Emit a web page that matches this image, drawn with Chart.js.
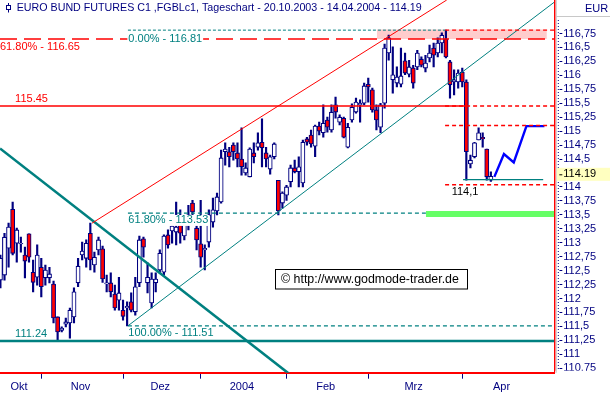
<!DOCTYPE html>
<html>
<head>
<meta charset="utf-8">
<title>EURO BUND FUTURES C1</title>
<script src="https://cdn.jsdelivr.net/npm/chart.js@4/dist/chart.umd.min.js"></script>
<style>
html,body{margin:0;padding:0;background:#ffffff;overflow:hidden}
canvas{display:block}
</style>
</head>
<body>
<canvas id="chart" width="610" height="396"></canvas>
<script>
// ---------------- data ----------------
const titleText = 'EURO BUND FUTURES C1 ,FGBLc1, Tageschart - 20.10.2003 - 14.04.2004 - 114.19';
const monthNames  = ['Okt', 'Nov', 'Dez', '2004', 'Feb', 'Mrz', 'Apr'];
const monthStarts = [0, 10, 30, 49, 70, 90, 113];   // trading-day index of first session of each month

const open = [
  112.33,112.42,112.90,113.60,112.99,112.98,112.78,113.16,112.47,112.38,
  112.56,112.37,112.37,112.26,111.67,111.43,111.54,111.56,111.67,112.28,112.78,112.72,113.17,112.60,112.87,112.89,112.26,112.28,112.08,111.97,
  111.79,111.83,111.94,111.76,112.28,113.07,112.28,111.92,112.28,112.51,112.47,113.14,113.21,113.19,113.32,113.12,113.50,113.71,113.26,
  112.98,112.87,113.01,113.37,113.57,113.73,114.63,114.63,114.75,114.61,114.50,114.25,114.18,114.61,114.71,114.80,114.61,114.32,114.54,114.12,113.71,
  113.85,114.09,114.34,114.27,114.07,114.86,114.93,114.73,115.09,114.97,115.20,115.02,115.47,115.16,115.23,114.71,115.20,115.34,115.47,115.50,
  115.84,115.74,115.38,115.07,115.50,116.40,115.92,115.86,115.84,116.26,116.02,116.13,116.15,116.29,116.13,116.31,116.49,116.40,116.58,116.65,116.24,115.88,115.88,
  116.06,115.88,114.41,114.54,114.84,114.89,114.68,114.12
];
const high = [
  112.78,113.17,113.35,113.73,113.26,113.10,112.92,113.16,112.69,112.96,
  112.72,112.60,112.56,112.31,111.67,111.49,111.65,111.83,112.19,112.72,113.01,113.05,113.35,112.83,113.10,112.94,112.42,112.46,112.24,112.38,
  111.97,111.94,112.10,112.38,113.12,113.10,112.64,112.46,112.46,112.87,113.14,113.23,113.35,113.73,113.59,113.44,113.67,113.76,113.41,
  113.76,112.96,113.59,113.80,113.89,114.66,114.79,114.71,114.79,114.79,115.06,114.43,114.70,114.79,114.97,115.22,114.71,114.57,114.79,114.12,113.91,
  114.03,114.39,114.48,114.54,114.84,114.89,115.02,115.11,115.16,115.47,115.25,115.47,115.61,115.29,115.25,115.14,115.49,115.59,115.56,115.86,
  115.95,115.77,115.47,115.50,116.56,116.72,116.51,116.15,116.49,116.40,116.27,116.18,116.45,116.33,116.36,116.54,116.58,116.67,116.76,116.81,116.27,116.10,116.10,
  116.13,115.92,114.57,114.80,115.06,114.97,114.68,114.27
];
const low = [
  112.19,112.33,112.56,112.78,112.65,112.83,112.37,112.65,112.12,112.24,
  112.03,112.24,112.28,111.56,111.24,111.40,111.49,111.29,111.56,112.21,112.69,112.56,112.51,112.47,112.78,112.29,112.12,112.03,111.79,111.79,
  111.61,111.51,111.76,111.70,112.21,112.74,112.10,111.83,112.12,112.46,112.42,112.90,112.99,112.96,112.99,113.05,113.23,113.50,112.87,
  112.56,112.51,112.92,113.28,113.50,113.71,114.39,114.36,114.48,114.36,114.21,114.21,114.18,114.43,114.66,114.36,114.36,114.23,114.50,113.50,113.62,
  113.76,114.00,114.25,114.00,114.00,114.75,114.71,114.54,114.93,114.89,114.98,114.98,115.23,115.11,114.88,114.70,115.16,115.32,115.16,115.47,
  115.52,115.34,115.02,114.97,115.41,116.27,115.68,115.79,115.79,116.01,115.97,115.77,116.10,116.15,116.06,116.24,116.15,116.33,116.40,116.31,115.59,115.65,115.77,
  115.79,114.12,114.34,114.52,114.84,114.71,114.12,114.10
];
const close = [
  112.72,113.10,113.28,112.81,113.23,112.99,112.67,112.74,112.29,112.78,
  112.21,112.51,112.44,111.65,111.40,111.47,111.58,111.79,112.12,112.58,112.85,112.99,112.69,112.74,113.05,112.35,112.28,112.12,111.83,112.10,
  111.68,111.86,111.79,112.21,113.05,112.92,112.38,112.35,112.35,112.81,113.12,112.96,113.30,113.28,113.17,113.37,113.37,113.55,113.05,
  112.74,112.90,113.50,113.59,113.82,114.52,114.68,114.54,114.63,114.50,114.36,114.34,114.68,114.54,114.79,114.70,114.50,114.54,114.77,113.57,113.89,
  114.00,114.34,114.27,114.36,114.80,114.80,114.77,115.09,115.00,115.14,115.07,115.34,115.34,115.25,114.89,115.07,115.43,115.52,115.50,115.81,
  115.79,115.38,115.20,115.47,116.49,116.67,116.01,115.97,115.99,116.04,116.15,115.86,116.40,116.18,116.22,116.40,116.36,116.58,116.72,116.33,115.83,115.92,116.04,
  115.88,114.63,114.48,114.79,114.97,114.86,114.18,114.19
];
const yTickValues = [116.75,116.5,116.25,116,115.75,115.5,115.25,115,114.75,114.5,114.25,114,113.75,
                     113.5,113.25,113,112.75,112.5,112.25,112,111.75,111.5,111.25,111,110.75];
const lastClose = 114.19;

// analysis levels (price)
const fibTop = 116.81, fibBottom = 111.51, fibUpper618 = 116.65, fibLower618 = 113.53;
const resistance = 115.45, resistance2 = 115.10, supportLow = 111.24, targetLevel = 114.04, shortSupport = 114.13;
const resistanceZone = [116.65, 116.82];
const supportZone = [113.46, 113.57];
// trend lines: [trading-day index, price]
const redChannel  = [[22.4, 113.35], [109.2, 117.35]];
const tealChannel = [[31.2, 111.51], [135.5, 117.31]];
const downTrend   = [[-0.1, 114.69], [71, 110.63]];
const projection  = [[120.85, 114.18], [123.2, 114.59], [125.6, 114.44], [128.7, 115.09], [133.1, 115.09]];

// ---------------- chart ----------------
const NAVY = '#000080', TEAL = '#008080', RED = '#ff0000';
const FONT = '"Liberation Sans", Arial, Helvetica, sans-serif';
Chart.defaults.font.family = FONT;

const xMin = -0.1, xMax = 135.52;
const edges = [xMin, ...monthStarts.slice(1), 133];
const labelAt = monthNames.map((n, k) => (edges[k] + edges[k + 1]) / 2 - 0.4);
const boundaryTicks = monthStarts.slice(1);
const xTickValues = [...boundaryTicks, ...labelAt].sort((a, b) => a - b);

const idx = open.map((_, i) => i);
const wickData = idx.map(i => ({ x: i, y: [low[i], high[i]] }));
const bodyData = idx.map(i => ({ x: i, y: [Math.min(open[i], close[i]), Math.max(open[i], close[i])] }));
const bodyColors = idx.map(i => close[i] < open[i] ? RED : '#ffffff');

function seg(points, color, width, dash, extra) {
  return Object.assign({
    type: 'line',
    data: points.map(p => ({ x: p[0], y: p[1] })),
    borderColor: color, borderWidth: width, borderDash: dash || [],
    pointRadius: 0, pointHoverRadius: 0, fill: false, tension: 0, order: 0, clip: 0
  }, extra || {});
}
function hline(value, from, to, color, width, dash) {
  return seg([[from, value], [to, value]], color, width, dash);
}
function zone(range, from, to, color) {
  return [
    seg([[from, range[1]], [to, range[1]]], 'rgba(0,0,0,0)', 0, [], { order: 3 }),
    seg([[from, range[0]], [to, range[0]]], 'rgba(0,0,0,0)', 0, [], { order: 3, fill: '-1', backgroundColor: color })
  ];
}

const datasets = [
  ...zone(resistanceZone, 92.1, 133.7, '#ffcccc'),
  ...zone(supportZone, 104.1, 135.6, '#66ff66'),
  { type: 'bar', data: wickData, backgroundColor: NAVY, borderWidth: 0, barThickness: 1.5, grouped: false, order: 2, clip: 0 },
  { type: 'bar', data: bodyData, backgroundColor: bodyColors, borderColor: NAVY, borderWidth: 1.1,
    borderSkipped: false, barThickness: 4.2, grouped: false, order: 1, clip: 0 },
  hline(fibUpper618, xMin, 135.6, RED, 1.5, [17, 7]),
  hline(fibTop, 31.2, 108.8, TEAL, 1, [3, 2]),
  hline(fibTop, 108.8, 135.6, RED, 1.4, [4, 3]),
  hline(resistance, xMin, 113.7, RED, 1.4),
  hline(resistance, 108.8, 135.6, RED, 1.4, [4, 3]),
  hline(resistance2, 108.8, 135.6, RED, 1.4, [4, 3]),
  hline(targetLevel, 108.8, 135.6, RED, 1.4, [4, 3]),
  hline(shortSupport, 113.2, 132.8, TEAL, 1.2),
  hline(fibLower618, 31.2, 104.1, TEAL, 1.2, [4, 3]),
  hline(fibBottom, 31.2, 135.6, TEAL, 1.2, [4, 3]),
  hline(supportLow, xMin, 135.6, TEAL, 2.5),
  seg(redChannel, RED, 1),
  seg(tealChannel, TEAL, 1),
  seg(downTrend, TEAL, 2.6),
  seg(projection, '#0000ff', 2.4)
];

const levelLabels = [
  { text: '61.80% - 116.65',  at: xMin, value: fibUpper618, dy: 8.2,  color: RED },
  { text: '0.00% - 116.81',   at: 31.3, value: fibTop,      dy: 9.0,  color: TEAL, bg: true },
  { text: '115.45',           at: 3.6,  value: resistance,  dy: -6.7, color: RED },
  { text: '61.80% - 113.53',  at: 31.3, value: fibLower618, dy: 7.3,  color: TEAL, bg: true },
  { text: '100.00% - 111.51', at: 31.3, value: fibBottom,   dy: 7.6,  color: TEAL, bg: true },
  { text: '111.24',           at: 3.6,  value: supportLow,  dy: -7.4, color: TEAL },
  { text: '114,1',            at: 110.4, value: targetLevel, dy: 7.2, color: '#000000' }
];

function txt(ctx, s, x, y, color, size, bg) {
  ctx.font = size + 'px ' + FONT;
  ctx.textBaseline = 'middle';
  ctx.textAlign = 'left';
  if (bg) {
    const w = ctx.measureText(s).width;
    ctx.fillStyle = '#ffffff';
    ctx.fillRect(x - 1, y - size / 2, w + 2, size);
  }
  ctx.fillStyle = color;
  ctx.fillText(s, x, y);
}

const overlay = {
  id: 'overlay',
  afterDraw(chart) {
    const { ctx, chartArea: ca, scales } = chart;
    const xs = scales.x, ys = scales.y;
    const W = chart.width, H = chart.height;
    ctx.save();
    // clip price labels below the plot
    ctx.fillStyle = '#ffffff';
    ctx.fillRect(ca.right + 1, ca.bottom - 2, W, H);
    // price panel frame
    ctx.strokeStyle = '#c8c8c8'; ctx.lineWidth = 1;
    ctx.beginPath();
    ctx.moveTo(ca.right + 2, 0); ctx.lineTo(ca.right + 2, ca.bottom);
    ctx.moveTo(ca.right + 2, 16.5); ctx.lineTo(W, 16.5);
    ctx.stroke();
    ctx.strokeStyle = NAVY; ctx.setLineDash([1, 2]);
    ctx.beginPath(); ctx.moveTo(ca.right + 4, 20); ctx.lineTo(ca.right + 4, ca.bottom - 2); ctx.stroke();
    ctx.setLineDash([]);
    txt(ctx, 'EUR', 585, 8.5, NAVY, 11);
    // current price marker
    const yc = ys.getPixelForValue(lastClose) - 2;
    ctx.fillStyle = '#ffffc0';
    ctx.fillRect(ca.right + 2.5, yc - 6.5, W - ca.right - 2.5, 13);
    ctx.strokeStyle = '#000000';
    ctx.beginPath(); ctx.moveTo(ca.right + 5, yc + 0.5); ctx.lineTo(ca.right + 8, yc + 0.5); ctx.stroke();
    txt(ctx, lastClose.toFixed(2), ca.right + 9, yc, '#000000', 11);
    // title with icon
    ctx.strokeStyle = NAVY; ctx.lineWidth = 1;
    ctx.beginPath(); ctx.moveTo(8.5, 3); ctx.lineTo(8.5, 12.5); ctx.stroke();
    ctx.fillStyle = '#ffffff'; ctx.fillRect(6.5, 5.5, 4, 4);
    ctx.strokeRect(6.5, 5.5, 4, 4);
    txt(ctx, titleText, 16.7, 7.8, NAVY, 10.7);
    // level labels
    levelLabels.forEach(l => {
      txt(ctx, l.text, Math.max(xs.getPixelForValue(l.at), 0), ys.getPixelForValue(l.value) + l.dy, l.color, 11, l.bg);
    });
    // copyright box
    ctx.fillStyle = '#ffffff'; ctx.fillRect(275.5, 269.5, 192, 19.5);
    ctx.strokeStyle = '#000000'; ctx.lineWidth = 1; ctx.strokeRect(275.5, 269.5, 192, 19.5);
    txt(ctx, '\u00A9 http://www.godmode-trader.de', 281, 279.5, '#000000', 12.4);
    ctx.restore();
  }
};

new Chart(document.getElementById('chart'), {
  type: 'bar',
  data: { datasets },
  options: {
    responsive: false,
    animation: false,
    devicePixelRatio: 1,
    events: [],
    layout: { padding: 0 },
    plugins: { legend: { display: false }, tooltip: { enabled: false }, title: { display: false } },
    scales: {
      x: {
        type: 'linear', position: 'bottom', min: xMin, max: xMax, offset: false,
        grid: {
          offset: false, drawOnChartArea: false, drawTicks: true, tickLength: 6, tickWidth: 1,
          tickColor: c => (c.tick && boundaryTicks.includes(c.tick.value)) ? NAVY : 'rgba(0,0,0,0)'
        },
        border: { display: true, color: RED, width: 2 },
        ticks: {
          autoSkip: false, maxRotation: 0, minRotation: 0, padding: 2, color: NAVY,
          font: { size: 11, family: FONT },
          callback: v => { const k = labelAt.findIndex(p => Math.abs(p - v) < 1e-6); return k >= 0 ? monthNames[k] : ''; }
        },
        afterBuildTicks: s => { s.ticks = xTickValues.map(v => ({ value: v })); },
        afterFit: s => { s.height = 23.3; s.paddingLeft = 0; s.paddingRight = 0; }
      },
      y: {
        type: 'linear', position: 'right', min: 110.67, max: 117.35, beginAtZero: false, bounds: 'data',
        grid: {
          drawOnChartArea: false, drawTicks: true, tickLength: 8, tickWidth: 1, tickColor: NAVY,
          tickBorderDash: [4, 4], tickBorderDashOffset: 4
        },
        border: { display: true, color: RED, width: 1.5 },
        ticks: {
          autoSkip: false, padding: 1, color: NAVY, font: { size: 11, family: FONT },
          callback: v => String(v).replace('.', ',')
        },
        afterBuildTicks: s => { s.ticks = yTickValues.map(v => ({ value: v })); },
        afterFit: s => { s.width = 55.7; s.paddingTop = 0; s.paddingBottom = 0; }
      }
    }
  },
  plugins: [overlay]
});
</script>
</body>
</html>
